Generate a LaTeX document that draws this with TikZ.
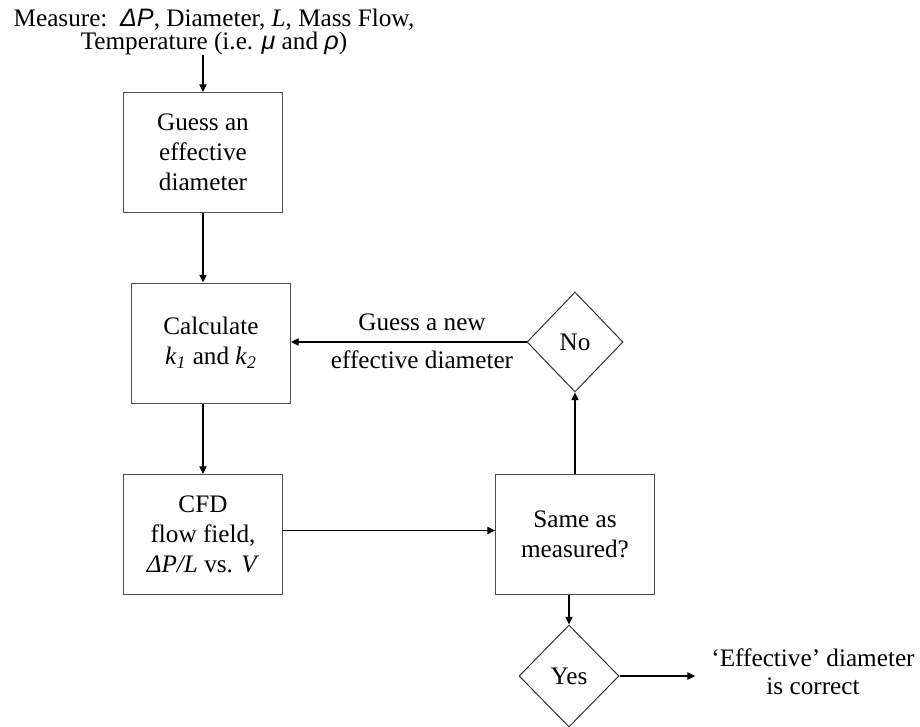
\documentclass[tikz,border=0pt]{standalone}
\usepackage{fontspec}
\setmainfont{Liberation Serif}
\newfontfamily\grk{Liberation Sans}
\usetikzlibrary{shapes.geometric,arrows.meta}
\def\sgk#1{{\grk\itshape #1}}
\def\ksub#1{\textit{k}\textsubscript{\textit{#1}}}
\def\darr{\draw[-{Triangle[length=3.8pt,width=3.6pt]},line width=0.6pt]}

\begin{document}
\begin{tikzpicture}[x=0.5pt,y=-0.5pt,
    font=\fontsize{12.6pt}{15pt}\selectfont,
    box/.style={draw=black!70,line width=0.5pt,minimum width=79.5pt,minimum height=60pt,inner sep=0pt,align=center},
    choice/.style={draw=black!80,line width=0.5pt,diamond,inner sep=0pt}]
    \useasboundingbox (0,0) rectangle (920,727);
    \node[align=center,inner sep=0pt,font=\fontsize{12.6pt}{11.5pt}\selectfont] (measure) at (214,32)
        {Measure:\ \ \sgk{ΔP}, Diameter, \textit{L}, Mass Flow,\\Temperature (i.e. \sgk{μ} and \sgk{ρ})};
    \node[box] (guess) at (203,152.5) {Guess an\\effective\\diameter};
    \node[box] (calc) at (211,343) {Calculate\\\ksub{1} and \ksub{2}};
    \node[box] (cfd) at (203,534.5) {CFD\\flow field,\\\textit{ΔP/L} vs. \textit{V}};
    \node[box] (same) at (575,534.5) {Same as\\measured?};
    \node[choice,minimum width=48pt,minimum height=50pt] (no) at (575,342) {No};
    \node[choice,minimum width=50pt,minimum height=51pt] (yes) at (569,676) {Yes};
    \node[align=center,font=\fontsize{12.6pt}{14pt}\selectfont] (newdia) at (422,341) {Guess a new\\[5pt]effective diameter};
    \node[align=center,inner xsep=8pt,font=\fontsize{12.6pt}{14pt}\selectfont] (done) at (813,672) {`Effective' diameter\\is correct};

    \darr (guess.north |- measure.south) -- (guess.north);
    \darr (guess.south) -- (guess.south |- calc.north);
    \darr (cfd.north |- calc.south) -- (cfd.north);
    \darr ([yshift=2pt]cfd.east) -- ([yshift=2pt]same.west);
    \darr (same.north) -- (no.south);
    \darr (no.west) -- (calc.east |- no.west);
    \darr (yes.north |- same.south) -- (yes.north);
    \darr (yes.east) -- (yes.east -| done.west);
\end{tikzpicture}
\end{document}
